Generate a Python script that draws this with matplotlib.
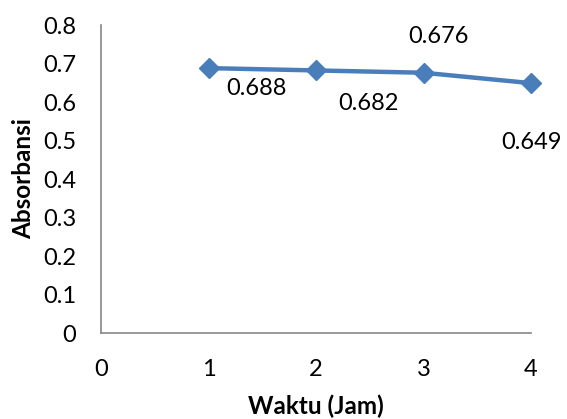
import matplotlib
matplotlib.use("Agg")
import matplotlib.pyplot as plt

# data
waktu = [1, 2, 3, 4]
absorbansi = [0.688, 0.682, 0.676, 0.649]
label_text = ["0.688", "0.682", "0.676", "0.649"]
# label offsets in pixels (Excel put them in odd spots)
label_dx = [48, 52, 15, 1]
label_dy = [-20, -33, 36, -59]

x_ticks = [0, 1, 2, 3, 4]
y_ticks = [0, 0.1, 0.2, 0.3, 0.4, 0.5, 0.6, 0.7, 0.8]

plt.rcParams['font.family'] = ['Lato', 'DejaVu Sans']

fig = plt.figure(figsize=(5.67, 4.19), dpi=100)
ax = fig.add_axes([101 / 567, 86 / 419, 430 / 567, 308 / 419])

ax.plot(waktu, absorbansi, color='#4a7ebb', lw=3.2, marker='D', markersize=10,
        markeredgecolor='#4a7ebb', markerfacecolor='#4a7ebb', clip_on=False)

for x, y, t, dx, dy in zip(waktu, absorbansi, label_text, label_dx, label_dy):
    ax.annotate(t, (x, y), xytext=(dx, dy), textcoords='offset pixels',
                ha='center', va='center', fontsize=17, color='black')

ax.set_xlim(0, 4)
ax.set_ylim(0, 0.8)
ax.set_xticks(x_ticks)
ax.set_yticks(y_ticks)
ax.set_xticklabels([str(v) for v in x_ticks])
ax.set_yticklabels(['0' if v == 0 else '%.1f' % v for v in y_ticks])
ax.tick_params(axis='both', length=0, labelsize=17, colors='black')
ax.tick_params(axis='x', pad=19)
ax.tick_params(axis='y', pad=18)

for side in ['top', 'right']:
    ax.spines[side].set_visible(False)
for side in ['left', 'bottom']:
    ax.spines[side].set_color('#868686')
    ax.spines[side].set_linewidth(1.2)

ax.set_xlabel('Waktu (Jam)', fontsize=17.5, fontweight='bold')
ax.set_ylabel('Absorbansi', fontsize=17.5, fontweight='bold')
ax.xaxis.set_label_coords(0.5, -0.2)
ax.yaxis.set_label_coords(-0.152, 0.503)

fig.savefig('out.png', dpi=100)
